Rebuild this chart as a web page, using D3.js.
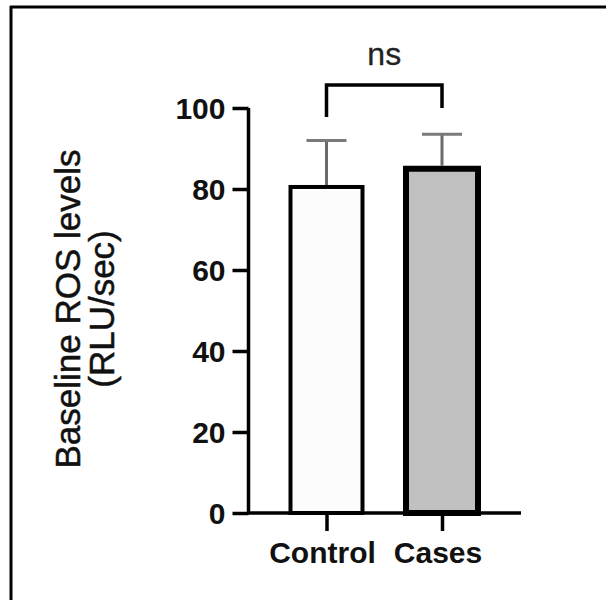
<!DOCTYPE html>
<html><head><meta charset="utf-8">
<script src="https://cdn.jsdelivr.net/npm/d3@7"></script>
<style>html,body{margin:0;padding:0;background:#fff;}svg{display:block;}</style>
</head><body>
<script>
const categories = ["Control", "Cases"];
const means = [80.5, 85];
const errUpper = [92, 93.5];
const yTicks = [0, 20, 40, 60, 80, 100];
const sigLabel = "ns";
const yTitle = ["Baseline ROS levels", "(RLU/sec)"];
const fills = ["#fcfcfc", "#c0c0c0"];
const strokeW = [4, 6];

const W = 606, H = 600;
const svg = d3.select("body").append("svg").attr("width", W).attr("height", H);
svg.append("rect").attr("width", W).attr("height", H).attr("fill", "#fff");

// frame lines (top & left)
svg.append("line").attr("x1", 10).attr("x2", W).attr("y1", 7).attr("y2", 7).attr("stroke", "#000").attr("stroke-width", 3);
svg.append("line").attr("x1", 11).attr("x2", 11).attr("y1", 6).attr("y2", H).attr("stroke", "#000").attr("stroke-width", 3);

const y = d3.scaleLinear().domain([0, 100]).range([513, 108]);
const x = d3.scalePoint().domain(categories).range([326.5, 442]);
const barW = 72;
const axisX = 248.5, axisEnd = 521;
const font = "'Liberation Sans', Arial, sans-serif";

// bars
categories.forEach((c, i) => {
  svg.append("rect")
    .attr("x", x(c) - barW / 2).attr("y", y(means[i]))
    .attr("width", barW).attr("height", y(0) - y(means[i]))
    .attr("fill", fills[i]).attr("stroke", "#000").attr("stroke-width", strokeW[i]);
  svg.append("line").attr("x1", x(c)).attr("x2", x(c))
    .attr("y1", y(means[i]) - strokeW[i] / 2).attr("y2", y(errUpper[i]))
    .attr("stroke", "#6a6a6a").attr("stroke-width", 3);
  svg.append("line").attr("x1", x(c) - 20).attr("x2", x(c) + 20)
    .attr("y1", y(errUpper[i])).attr("y2", y(errUpper[i]))
    .attr("stroke", "#7a7a7a").attr("stroke-width", 3);
});

// y axis
const yAxis = svg.append("g").attr("transform", `translate(${axisX},0)`)
  .call(d3.axisLeft(y).tickValues(yTicks).tickSize(16).tickPadding(7));
yAxis.select(".domain").attr("d", `M0,${y(100)}V${y(0)}`).attr("stroke", "#000").attr("stroke-width", 3.5);
yAxis.selectAll(".tick line").attr("stroke", "#000").attr("stroke-width", 3.5);
yAxis.selectAll(".tick text").attr("font-family", font).attr("font-weight", "bold")
  .attr("font-size", 30).attr("fill", "#111").attr("dy", "0.36em");

// x axis
const xAxis = svg.append("g").attr("transform", `translate(0,${y(0)})`)
  .call(d3.axisBottom(x).tickSize(18).tickPadding(11));
xAxis.select(".domain").attr("d", `M${axisX - 1.5},0H${axisEnd}`).attr("stroke", "#000").attr("stroke-width", 3.5);
xAxis.selectAll(".tick line").attr("stroke", "#000").attr("stroke-width", 3.5);
xAxis.selectAll(".tick text").attr("font-family", font).attr("font-weight", "bold")
  .attr("font-size", 30).attr("fill", "#111").attr("dx", "-0.15em");

// significance bracket
svg.append("path")
  .attr("d", `M${x("Control")},117V85H${x("Cases")}V108`)
  .attr("fill", "none").attr("stroke", "#000").attr("stroke-width", 3.5);
svg.append("text").attr("x", (x("Control") + x("Cases")) / 2).attr("y", 65)
  .attr("text-anchor", "middle").attr("font-family", font).attr("font-size", 32)
  .attr("fill", "#222").attr("stroke", "#222").attr("stroke-width", 0.3).text(sigLabel);

// y title
const tg = svg.append("g").attr("transform", "translate(0,309) rotate(-90)");
tg.append("text").attr("x", 0).attr("y", 80).attr("text-anchor", "middle")
  .attr("font-family", font).attr("font-size", 35).attr("fill", "#111")
  .attr("stroke", "#111").attr("stroke-width", 0.5).text(yTitle[0]);
tg.append("text").attr("x", 0).attr("y", 114).attr("text-anchor", "middle")
  .attr("font-family", font).attr("font-size", 35).attr("fill", "#111")
  .attr("stroke", "#111").attr("stroke-width", 0.5).text(yTitle[1]);
</script>
</body></html>
